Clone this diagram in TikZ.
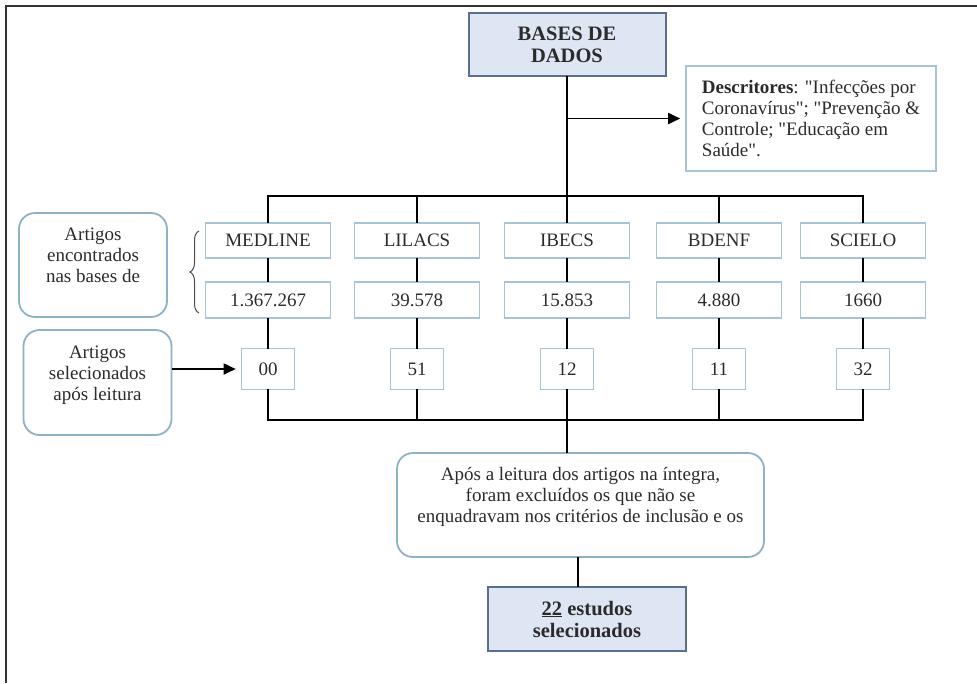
\documentclass[tikz,border=0pt]{standalone}
\usepackage{fontspec}
\setmainfont{Liberation Serif}[Ligatures=TeXOff]
\usetikzlibrary{arrows.meta, positioning, decorations.pathreplacing}
\definecolor{boxblue}{HTML}{A6C3D8}
\definecolor{roundblue}{HTML}{8DB1C9}
\definecolor{headfill}{HTML}{DDE6F2}
\definecolor{headline}{HTML}{5A6E90}
\definecolor{inktext}{HTML}{2B2B2B}
\tikzset{
  base/.style={draw=boxblue, line width=1.6pt, minimum height=35pt, inner sep=2pt,
    text=inktext, font=\fontsize{19}{21}\selectfont},
  headbox/.style={draw=headline, fill=headfill, line width=2pt, align=center,
    text=inktext, font=\fontsize{20.5}{22}\selectfont\bfseries},
  roundbox/.style={draw=roundblue, line width=1.8pt, rounded corners=16pt, align=center,
    text=inktext, font=\fontsize{19}{21}\selectfont},
  link/.style={line width=1.8pt, line cap=rect},
  pointer/.style={line width=1.8pt, -{Triangle[length=12pt, width=11pt]}, shorten >=5pt},
}

\begin{document}
\begin{tikzpicture}[x=1pt, y=-1pt]
  \useasboundingbox (0,0) rectangle (977,683);
  \draw[line width=2pt, black!80] (6,683) -- (6,6) -- (977,6);

  \node[headbox, minimum width=197pt, minimum height=63pt] (bases) at (567,44.5) {BASES DE\\DADOS};
  \node[base, minimum width=250pt, minimum height=105pt, align=left] (desc) at (811,118.5)
    {\textbf{Descritores}: "Infecções por\\Coronavírus"; "Prevenção \&\\Controle; "Educação em\\Saúde".};
  \draw[pointer] (bases.south |- desc.west) -- (desc.west);

  \foreach \i/\cx/\db/\num/\sel in {1/268/MEDLINE/1.367.267/00, 2/417/LILACS/39.578/51,
                                   3/567/IBECS/15.853/12, 4/719/BDENF/4.880/11, 5/863/SCIELO/1660/32}
  {
    \node[base, minimum width=125pt] (db\i) at (\cx,240.5) {\db};
    \node[base, minimum width=125pt, minimum height=36pt] (num\i) at (\cx,300) {\num};
    \node[base, minimum width=53pt, minimum height=41pt] (sel\i) at (\cx,369) {\sel};
    \coordinate (topbus\i) at (\cx,196);
    \coordinate (lowbus\i) at (\cx,420);
    \draw[link] (topbus\i) -- (db\i.north);
    \draw[link] (db\i.south) -- (num\i.north);
    \draw[link] (num\i.south) -- (sel\i.north);
    \draw[link] (sel\i.south) -- (lowbus\i);
  }
  \draw[link] (bases.south) -- (topbus3);
  \draw[link] (topbus1) -- (topbus5);
  \draw[link] (lowbus1) -- (lowbus5);

  \node[roundbox, minimum width=148pt, minimum height=104pt, text depth=20pt] (found) at (93,265)
    {Artigos\\encontrados\\nas bases de};
  \draw[decorate, decoration={brace, amplitude=9pt}, line width=1pt, black!70] (199,313) -- (199,231);
  \node[roundbox, minimum width=148pt, minimum height=105pt, text depth=19pt] (chosen) at (97.5,382.5)
    {Artigos\\selecionados\\após leitura};
  \draw[pointer] (chosen.east |- sel1) -- (sel1.west);

  \node[roundbox, minimum width=367pt, minimum height=104pt, text depth=20pt] (note) at (580.5,505)
    {Após a leitura dos artigos na íntegra,\\foram excluídos os que não se\\enquadravam nos critérios de inclusão e os};
  \draw[link] (lowbus3) -- (lowbus3 |- note.north);
  \node[headbox, minimum width=198pt, minimum height=64pt] (result) at (587,619)
    {\underline{22} estudos\\selecionados};
  \draw[link] ([xshift=-2.5pt]note.south) -- ([xshift=-2.5pt]note.south |- result.north);
\end{tikzpicture}
\end{document}
